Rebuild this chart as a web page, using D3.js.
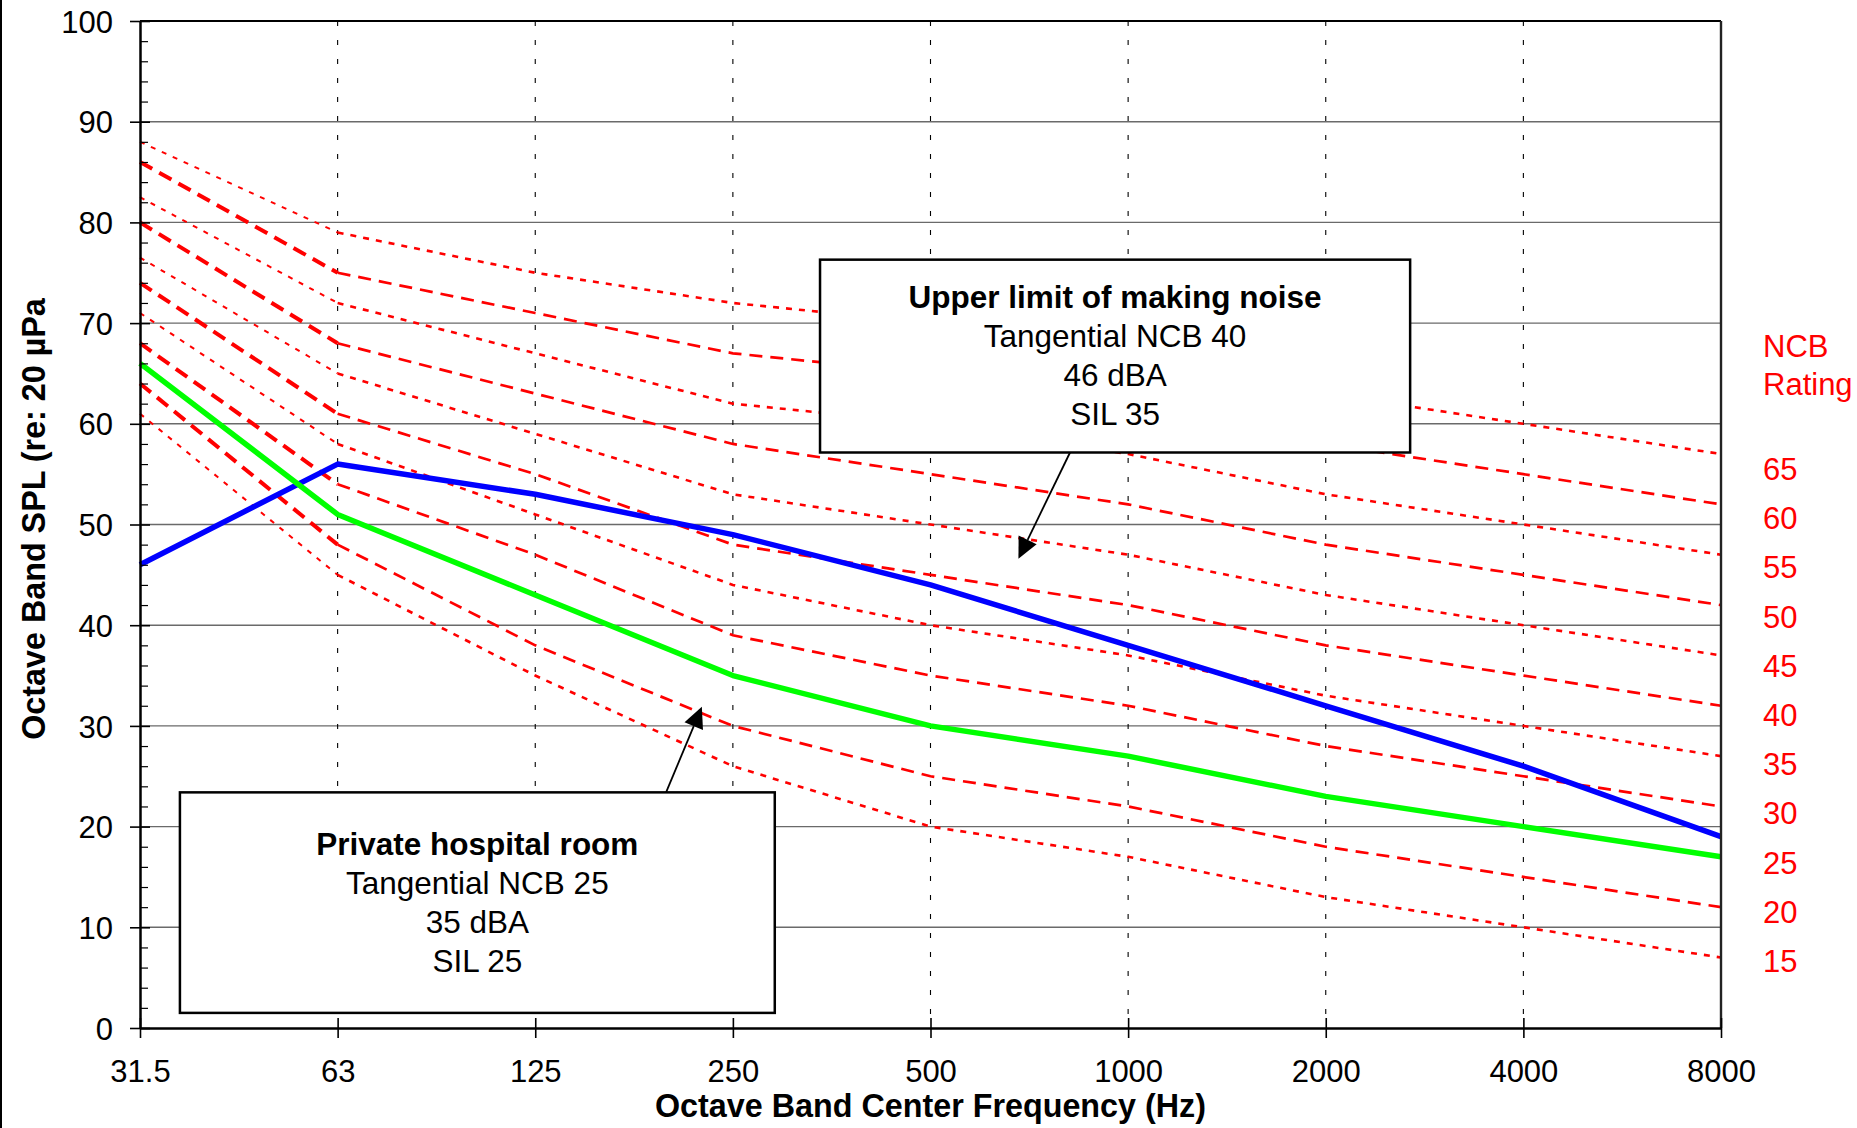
<!DOCTYPE html>
<html>
<head>
<meta charset="utf-8">
<script src="https://cdn.jsdelivr.net/npm/d3@7"></script>
<style>
  html, body { margin: 0; padding: 0; background: #fff; }
  svg { display: block; font-family: "Liberation Sans", Arial, Helvetica, sans-serif; }
</style>
</head>
<body>
<svg id="chart" width="1857" height="1128"></svg>
<script>
// ---- data -------------------------------------------------------------
const frequencies = ["31.5", "63", "125", "250", "500", "1000", "2000", "4000", "8000"];
const yTickValues = [0, 10, 20, 30, 40, 50, 60, 70, 80, 90, 100];
const ncbRatings = [65, 60, 55, 50, 45, 40, 35, 30, 25, 20, 15];

// NCB reference curves, octave band SPL (dB) at each centre frequency
const ncb65 = [88, 79, 75, 72, 70, 67, 63, 60, 57];
const ncb60 = [86, 75, 71, 67, 65, 62, 58, 55, 52];
const ncb55 = [82.5, 72, 67, 62, 60, 57, 53, 50, 47];
const ncb50 = [80, 68, 63, 58, 55, 52, 48, 45, 42];
const ncb45 = [76.5, 65, 59, 53, 50, 47, 43, 40, 37];
const ncb40 = [74, 61, 55, 48, 45, 42, 38, 35, 32];
const ncb35 = [71, 58, 51, 44, 40, 37, 33, 30, 27];
const ncb30 = [68, 54, 47, 39, 35, 32, 28, 25, 22];
const ncb25 = [66, 51, 43, 35, 30, 27, 23, 20, 17];
const ncb20 = [64, 48, 38, 30, 25, 22, 18, 15, 12];
const ncb15 = [61, 45, 35, 26, 20, 17, 13, 10, 7];

// measured spectra
const upperLimitNoise = [46, 56, 53, 49, 44, 38, 32, 26, 19];
const privateHospitalRoom = [66, 51, 43, 35, 30, 27, 23, 20, 17];

const upperNoteLines = ["Upper limit of making noise", "Tangential NCB 40", "46 dBA", "SIL 35"];
const hospitalNoteLines = ["Private hospital room", "Tangential NCB 25", "35 dBA", "SIL 25"];

const ncbCurves = [ncb65, ncb60, ncb55, ncb50, ncb45, ncb40, ncb35, ncb30, ncb25, ncb20, ncb15]
  .map((values, i) => ({ rating: ncbRatings[i], values }));

// ---- layout -----------------------------------------------------------
const svg = d3.select("#chart");
const plotLeft = 140, plotRight = 1721, plotTop = 21, plotBottom = 1028;

const x = d3.scalePoint().domain(frequencies).range([plotLeft, plotRight]);
const xi = d3.scaleLinear().domain([0, frequencies.length - 1]).range([plotLeft, plotRight]); // fractional band index
const y = d3.scaleLinear().domain([0, 100]).range([plotBottom, plotTop]);

// outer frame edge
svg.append("line").attr("x1", 1).attr("x2", 1).attr("y1", 0).attr("y2", 1128)
  .attr("stroke", "#000").attr("stroke-width", 2);

// horizontal grid
svg.append("g").selectAll("line")
  .data(yTickValues.filter(v => v > 0 && v < 100))
  .join("line")
  .attr("x1", plotLeft).attr("x2", plotRight)
  .attr("y1", d => y(d)).attr("y2", d => y(d))
  .attr("stroke", "#6a6a6a").attr("stroke-width", 1.4);

// vertical dashed grid
svg.append("g").selectAll("line")
  .data(frequencies.slice(1, -1))
  .join("line")
  .attr("x1", d => x(d)).attr("x2", d => x(d))
  .attr("y1", plotTop).attr("y2", plotBottom)
  .attr("stroke", "#000").attr("stroke-width", 1.1)
  .attr("stroke-dasharray", "5,14");

// NCB curves: multiples of ten dashed, the others dotted
const line = d3.line().x(d => x(d.f)).y(d => y(d.v));
const gCurves = svg.append("g").attr("fill", "none").attr("stroke", "#ff0000");
ncbCurves.forEach(c => {
  const dashed = c.rating % 10 === 0;
  const pts = c.values.map((v, j) => ({ f: frequencies[j], v }));
  // steep low-frequency segment
  gCurves.append("path").attr("d", line(pts.slice(0, 2)))
    .attr("stroke-width", dashed ? 4 : 2)
    .attr("stroke-dasharray", dashed ? "14,8" : "5,7");
  gCurves.append("path").attr("d", line(pts.slice(1)))
    .attr("stroke-width", dashed ? 2.7 : 2.6)
    .attr("stroke-dasharray", dashed ? "13,8" : "6,7");
});

// measured spectra
svg.append("path")
  .attr("d", line(upperLimitNoise.map((v, j) => ({ f: frequencies[j], v }))))
  .attr("fill", "none").attr("stroke", "#0000ff").attr("stroke-width", 5.5)
  .attr("stroke-linejoin", "round");
svg.append("path")
  .attr("d", line(privateHospitalRoom.map((v, j) => ({ f: frequencies[j], v }))))
  .attr("fill", "none").attr("stroke", "#00ff00").attr("stroke-width", 5.5)
  .attr("stroke-linejoin", "round");

// annotation boxes with pointer arrows (positions in band index / dB)
function note(lines, x0, x1, vTop, vBottom, from, to) {
  const g = svg.append("g");
  const bx0 = xi(x0), bx1 = xi(x1), by0 = y(vTop), by1 = y(vBottom);
  // arrow
  const sx = xi(from[0]), sy = y(from[1]), tx = xi(to[0]), ty = y(to[1]);
  const ang = Math.atan2(ty - sy, tx - sx);
  const headLen = 21, headHalf = 10;
  const bxh = tx - headLen * Math.cos(ang), byh = ty - headLen * Math.sin(ang);
  g.append("line").attr("x1", sx).attr("y1", sy).attr("x2", bxh).attr("y2", byh)
    .attr("stroke", "#000").attr("stroke-width", 1.8);
  g.append("path")
    .attr("d", `M${tx},${ty}L${bxh + headHalf * Math.sin(ang)},${byh - headHalf * Math.cos(ang)}` +
               `L${bxh - headHalf * Math.sin(ang)},${byh + headHalf * Math.cos(ang)}Z`)
    .attr("fill", "#000");
  g.append("rect").attr("x", bx0).attr("y", by0)
    .attr("width", bx1 - bx0).attr("height", by1 - by0)
    .attr("fill", "#fff").attr("stroke", "#000").attr("stroke-width", 2.5);
  const cx = (bx0 + bx1) / 2, cy = (by0 + by1) / 2, gap = 39;
  lines.forEach((t, i) => {
    g.append("text")
      .attr("x", cx)
      .attr("y", cy - (lines.length - 1) * gap / 2 + i * gap + 10.8)
      .attr("text-anchor", "middle")
      .attr("font-size", 31.5)
      .attr("font-weight", i === 0 ? "bold" : "normal")
      .attr("fill", "#000")
      .text(t);
  });
}
note(upperNoteLines, 3.441, 6.427, 76.3, 57.15, [4.706, 57.15], [4.445, 46.6]);
note(hospitalNoteLines, 0.202, 3.212, 23.4, 1.5, [2.662, 23.4], [2.843, 31.9]);

// plot frame: top and right edges
svg.append("line").attr("x1", plotLeft).attr("x2", plotRight).attr("y1", plotTop).attr("y2", plotTop)
  .attr("stroke", "#000").attr("stroke-width", 2.2);
svg.append("line").attr("x1", plotRight).attr("x2", plotRight).attr("y1", plotTop).attr("y2", plotBottom)
  .attr("stroke", "#222").attr("stroke-width", 2.4);

// y axis: major ticks crossing the axis, minor ticks inside every 2 dB
const yAxis = svg.append("g").attr("transform", `translate(${plotLeft},0)`)
  .call(d3.axisLeft(y).tickValues(yTickValues).tickSizeInner(10).tickSizeOuter(0)
    .tickPadding(17).tickFormat(d3.format("d")));
yAxis.select(".domain").attr("stroke", "#000").attr("stroke-width", 2.5);
yAxis.selectAll(".tick line").attr("x1", 10).attr("stroke", "#000").attr("stroke-width", 1.6);
yAxis.selectAll(".tick text").attr("font-size", 31).attr("fill", "#000").attr("dy", "0.36em");
yAxis.attr("font-family", null).attr("font-size", null);

const minorTicks = d3.range(2, 100, 2).filter(v => v % 10 !== 0);
const yMinor = svg.append("g").attr("transform", `translate(${plotLeft},0)`)
  .call(d3.axisRight(y).tickValues(minorTicks).tickSize(8).tickFormat(""));
yMinor.select(".domain").remove();
yMinor.selectAll(".tick line").attr("stroke", "#000").attr("stroke-width", 1.2);

// x axis
const xAxis = svg.append("g").attr("transform", `translate(0,${plotBottom})`)
  .call(d3.axisBottom(x).tickSizeInner(10).tickSizeOuter(0).tickPadding(22));
xAxis.select(".domain").attr("stroke", "#000").attr("stroke-width", 2.5);
xAxis.selectAll(".tick line").attr("y1", -10).attr("stroke", "#000").attr("stroke-width", 1.6);
xAxis.selectAll(".tick text").attr("font-size", 31).attr("fill", "#000");
xAxis.attr("font-family", null).attr("font-size", null);

// axis titles
svg.append("text")
  .attr("x", (plotLeft + plotRight) / 2).attr("y", 1117)
  .attr("text-anchor", "middle").attr("font-size", 32.3).attr("font-weight", "bold")
  .text("Octave Band Center Frequency (Hz)");
svg.append("text")
  .attr("transform", "translate(45,519) rotate(-90)")
  .attr("text-anchor", "middle").attr("font-size", 32.3).attr("font-weight", "bold")
  .text("Octave Band SPL (re: 20 µPa");

// NCB rating labels
const gRating = svg.append("g").attr("fill", "#ff0000").attr("font-size", 31);
gRating.append("text").attr("x", 1763).attr("y", 357).text("NCB");
gRating.append("text").attr("x", 1763).attr("y", 395).text("Rating");
gRating.selectAll("text.rating")
  .data(ncbRatings)
  .join("text")
  .attr("class", "rating")
  .attr("x", 1763)
  .attr("y", (d, i) => 480 + i * 49.2)
  .text(d => d);
</script>
</body>
</html>
